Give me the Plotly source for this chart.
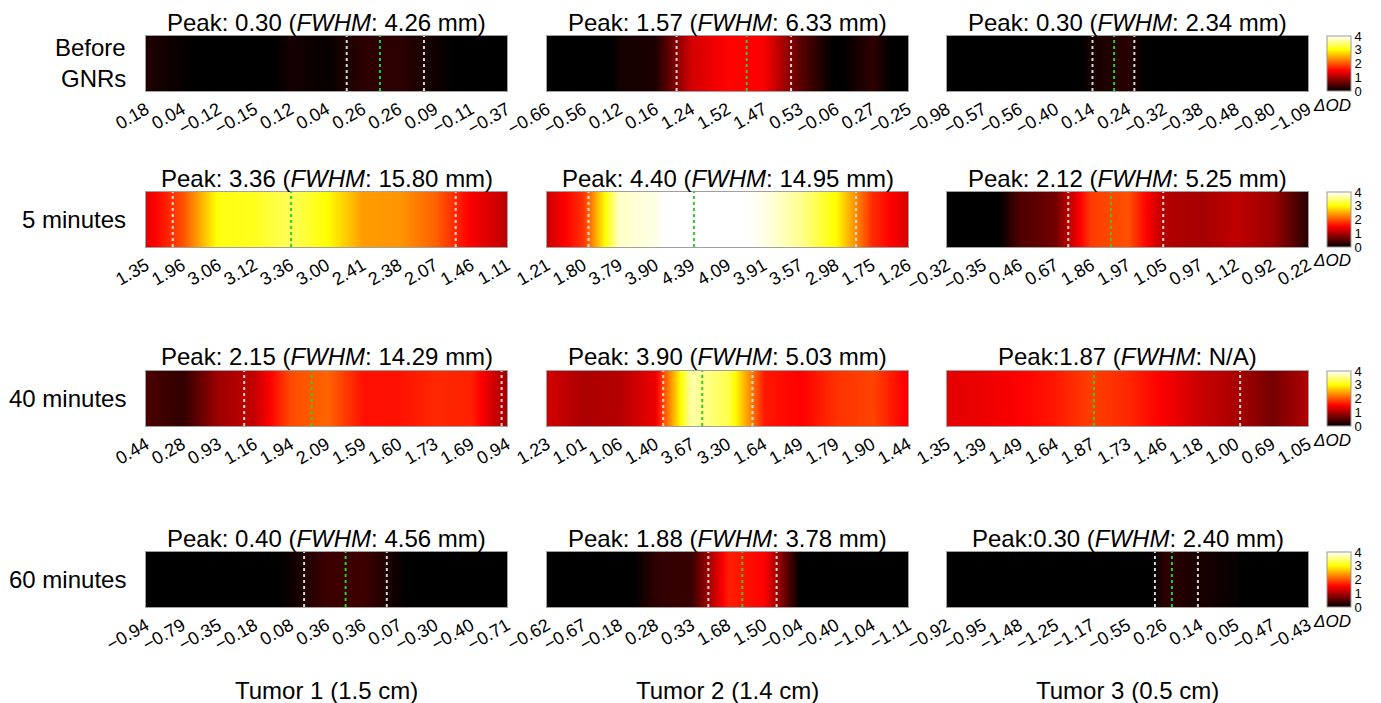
import plotly.graph_objects as go

# ---------------- data ----------------
row_labels = [["Before", "GNRs"], ["5 minutes"], ["40 minutes"], ["60 minutes"]]
col_labels = ["Tumor 1 (1.5 cm)", "Tumor 2 (1.4 cm)", "Tumor 3 (0.5 cm)"]

before_gnrs = [
    [0.18, 0.04, -0.12, -0.15, 0.12, 0.04, 0.26, 0.26, 0.09, -0.11, -0.37],
    [-0.66, -0.56, 0.12, 0.16, 1.24, 1.52, 1.47, 0.53, -0.06, 0.27, -0.25],
    [-0.98, -0.57, -0.56, -0.40, 0.14, 0.24, -0.32, -0.38, -0.48, -0.80, -1.09],
]
min5 = [
    [1.35, 1.96, 3.06, 3.12, 3.36, 3.00, 2.41, 2.38, 2.07, 1.46, 1.11],
    [1.21, 1.80, 3.79, 3.90, 4.39, 4.09, 3.91, 3.57, 2.98, 1.75, 1.26],
    [-0.32, -0.35, 0.46, 0.67, 1.86, 1.97, 1.05, 0.97, 1.12, 0.92, 0.22],
]
min40 = [
    [0.44, 0.28, 0.93, 1.16, 1.94, 2.09, 1.59, 1.60, 1.73, 1.69, 0.94],
    [1.23, 1.01, 1.06, 1.40, 3.67, 3.30, 1.64, 1.49, 1.79, 1.90, 1.44],
    [1.35, 1.39, 1.49, 1.64, 1.87, 1.73, 1.46, 1.18, 1.00, 0.69, 1.05],
]
min60 = [
    [-0.94, -0.79, -0.35, -0.18, 0.08, 0.36, 0.36, 0.07, -0.30, -0.40, -0.71],
    [-0.62, -0.67, -0.18, 0.28, 0.33, 1.68, 1.50, -0.04, -0.40, -1.04, -1.11],
    [-0.92, -0.95, -1.48, -1.25, -1.17, -0.55, 0.26, 0.14, 0.05, -0.47, -0.43],
]
profiles = [before_gnrs, min5, min40, min60]

titles = [
    ["Peak: 0.30 (<i>FWHM</i>: 4.26 mm)", "Peak: 1.57 (<i>FWHM</i>: 6.33 mm)", "Peak: 0.30 (<i>FWHM</i>: 2.34 mm)"],
    ["Peak: 3.36 (<i>FWHM</i>: 15.80 mm)", "Peak: 4.40 (<i>FWHM</i>: 14.95 mm)", "Peak: 2.12 (<i>FWHM</i>: 5.25 mm)"],
    ["Peak: 2.15 (<i>FWHM</i>: 14.29 mm)", "Peak: 3.90 (<i>FWHM</i>: 5.03 mm)", "Peak:1.87 (<i>FWHM</i>: N/A)"],
    ["Peak: 0.40 (<i>FWHM</i>: 4.56 mm)", "Peak: 1.88 (<i>FWHM</i>: 3.78 mm)", "Peak:0.30 (<i>FWHM</i>: 2.40 mm)"],
]

peak_x = [[6.48, 5.53, 4.63], [4.02, 4.07, 4.54], [4.59, 4.30, 4.07], [5.53, 5.41, 6.23]]
fwhm_left = [[5.56, 3.59, 4.03], [0.74, 1.15, 3.36], [2.72, 3.22, None], [4.38, 4.47, 5.76]]
fwhm_right = [[7.70, 6.76, 5.19], [8.58, 8.56, 5.99], [9.85, 5.69, 8.12], [6.67, 6.36, 6.95]]

cbar_ticks = [0, 1, 2, 3, 4]

# ---------------- layout constants ----------------
W, H = 1381, 703
col_left = [146, 547, 947]
col_w = 361
row_top = [36, 192, 371, 552]
row_h = 55
FONT = "Liberation Sans, Arial, sans-serif"

hot = [[0.0, "rgb(0,0,0)"], [0.375, "rgb(255,0,0)"], [0.75, "rgb(255,255,0)"], [1.0, "rgb(255,255,255)"]]


def fmt(v):
    s = f"{v:.2f}"
    return s.replace("-", "\u2212")


fig = go.Figure()
layout = dict(
    width=W, height=H,
    margin=dict(l=0, r=0, t=0, b=0, autoexpand=False),
    paper_bgcolor="white", plot_bgcolor="white",
    font=dict(family=FONT, color="black"),
    showlegend=False,
)
annotations = []
shapes = []

for r in range(4):
    ca = "coloraxis" if r == 0 else f"coloraxis{r+1}"
    y0 = 1 - (row_top[r] + row_h) / H
    y1 = 1 - row_top[r] / H
    layout[ca] = dict(
        cmin=0, cmax=4, colorscale=hot,
        colorbar=dict(
            x=1327 / W, xanchor="left", xpad=0,
            y=y1, yanchor="top", ypad=0,
            len=row_h / H, lenmode="fraction",
            thickness=24, thicknessmode="pixels",
            outlinecolor="#999999", outlinewidth=1,
            tickvals=cbar_ticks, ticks="", ticklen=0,
            tickfont=dict(size=13, family=FONT),
        ),
    )
    annotations.append(dict(
        text="<i>\u0394OD</i>", x=1353 / W, y=1 - (row_top[r] + row_h + 14) / H,
        xref="paper", yref="paper", showarrow=False, xanchor="right", yanchor="middle",
        font=dict(size=17, family=FONT),
    ))
    # row labels
    lines = row_labels[r]
    if len(lines) == 2:
        ys = [47, 79]
    else:
        ys = [row_top[r] + row_h / 2]
    for txt, yy in zip(lines, ys):
        annotations.append(dict(
            text=txt, x=128 / W, y=1 - yy / H, xref="paper", yref="paper",
            showarrow=False, xanchor="right", yanchor="middle",
            font=dict(size=24, family=FONT),
        ))

    for c in range(3):
        n = r * 3 + c + 1
        xa = "x" if n == 1 else f"x{n}"
        ya = "y" if n == 1 else f"y{n}"
        vals = profiles[r][c]
        xs = list(range(len(vals)))
        fig.add_trace(go.Heatmap(
            x=xs, y=[0, 1], z=[vals, vals], zsmooth="best",
            coloraxis=ca, xaxis=xa, yaxis=ya, hoverinfo="skip",
        ))
        layout[f"xaxis{n}"] = dict(
            domain=[col_left[c] / W, (col_left[c] + col_w) / W], anchor=ya,
            range=[0, len(vals) - 1], tickvals=xs, ticktext=[fmt(v) for v in vals],
            tickangle=-30, tickfont=dict(size=18, family=FONT), ticks="",
            showgrid=False, zeroline=False, showline=True, mirror=True, automargin=False,
            linecolor="#a0a0a0", linewidth=1, fixedrange=True,
        )
        layout[f"yaxis{n}"] = dict(
            domain=[y0, y1], anchor=xa, range=[0, 1], automargin=False,
            showticklabels=False, ticks="", showgrid=False, zeroline=False,
            showline=True, mirror=True, linecolor="#a0a0a0", linewidth=1, fixedrange=True,
        )
        # title
        annotations.append(dict(
            text=titles[r][c], x=(col_left[c] + col_w / 2) / W, y=1 - (row_top[r] - 14) / H,
            xref="paper", yref="paper", showarrow=False, xanchor="center", yanchor="middle",
            font=dict(size=24, family=FONT),
        ))
        # FWHM + peak lines
        for xv, colr in [(fwhm_left[r][c], "rgba(225,225,225,0.95)"),
                         (fwhm_right[r][c], "rgba(225,225,225,0.95)"),
                         (peak_x[r][c], "rgb(40,210,40)")]:
            if xv is None:
                continue
            shapes.append(dict(
                type="line", xref=xa, yref=f"{ya} domain", x0=xv, x1=xv, y0=0, y1=1,
                line=dict(color=colr, width=2, dash="dot"), layer="above",
            ))

for c in range(3):
    annotations.append(dict(
        text=col_labels[c], x=(col_left[c] + col_w / 2) / W, y=1 - 690 / H,
        xref="paper", yref="paper", showarrow=False, xanchor="center", yanchor="middle",
        font=dict(size=24, family=FONT),
    ))

layout["annotations"] = annotations
layout["shapes"] = shapes
fig.update_layout(**layout)
fig.write_html("out.html")
